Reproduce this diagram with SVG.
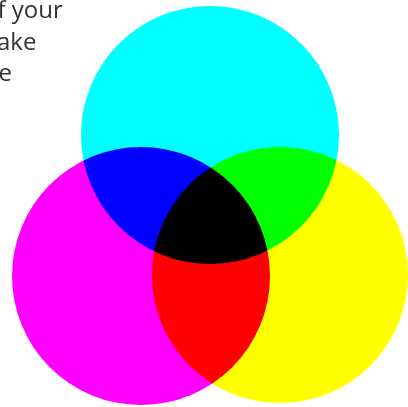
<svg xmlns="http://www.w3.org/2000/svg" width="408" height="407" viewBox="0 0 408 407">
<style>
.t{font-family:"Open Sans","DejaVu Sans",sans-serif;font-size:24px;fill:#333}
.c{mix-blend-mode:multiply}
</style>
<rect width="408" height="407" fill="#fff"/>
<g id="text">
<text class="t" x="-2.5" y="18">f your</text>
<text class="t" x="-3" y="50">ake</text>
<text class="t" x="-1.5" y="81">e</text>
</g>
<g style="isolation:isolate">
<g id="cyan"><circle class="c" cx="210" cy="135" r="129" fill="#00ffff"/></g>
<g id="magenta"><circle class="c" cx="141" cy="276" r="129" fill="#ff00ff"/></g>
<g id="yellow"><circle class="c" cx="280" cy="275" r="128" fill="#ffff00"/></g>
</g>
</svg>
